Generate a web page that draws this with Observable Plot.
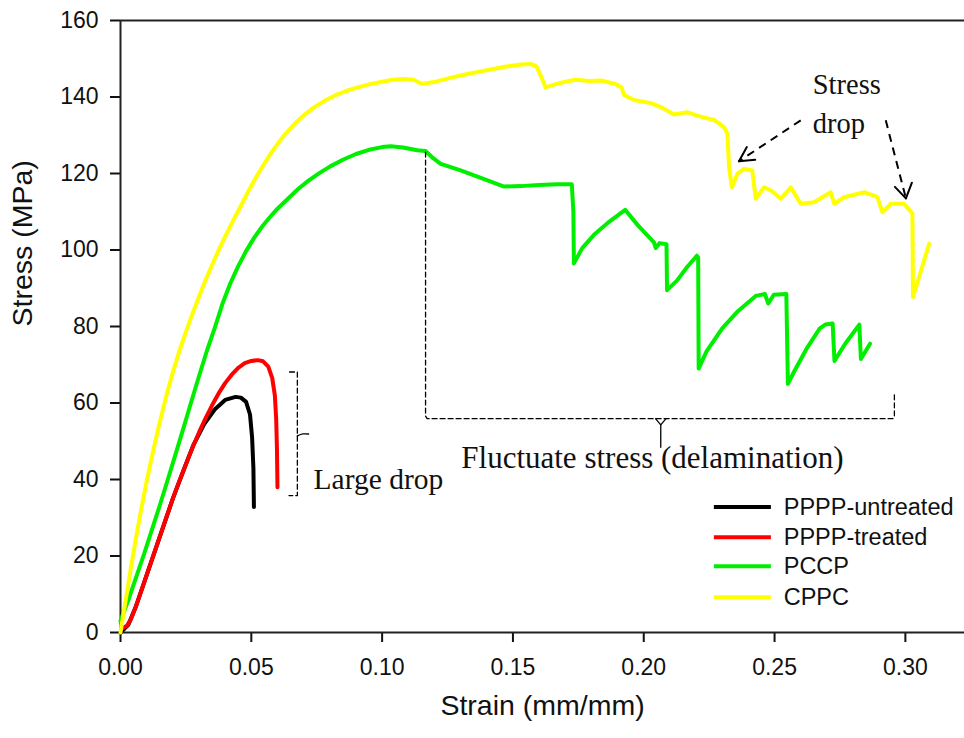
<!DOCTYPE html>
<html>
<head>
<meta charset="utf-8">
<script src="https://cdn.jsdelivr.net/npm/d3@7"></script>
<script src="https://cdn.jsdelivr.net/npm/@observablehq/plot@0.6"></script>
<style>
  html, body { margin: 0; padding: 0; background: #fff; }
  #chart { width: 964px; height: 738px; }
</style>
</head>
<body>
<div id="chart"></div>
<script>
// ---------- data ----------
const seriesNames = ["PPPP-untreated", "PPPP-treated", "PCCP", "CPPC"];
const seriesColors = ["#000000", "#ff0000", "#00ee00", "#ffff00"];

const untreatedStrain = [0, 0.003, 0.006, 0.010, 0.015, 0.020, 0.025, 0.028, 0.032, 0.036, 0.040, 0.044, 0.046, 0.048, 0.0495, 0.0503, 0.0508, 0.051];
const untreatedStress = [0, 2, 7, 15, 25, 35, 44, 49.2, 54.5, 58.3, 60.8, 61.6, 61.4, 60.3, 57, 51, 43, 32.8];

const treatedStrain = [0.0005, 0.0025, 0.004, 0.006, 0.008, 0.010, 0.0125, 0.015, 0.0175, 0.020, 0.0225, 0.025, 0.0275, 0.030, 0.0325, 0.035, 0.0375, 0.040, 0.0425, 0.045, 0.0475, 0.050, 0.0525, 0.0545, 0.0565, 0.058, 0.059, 0.0595, 0.0598, 0.060];
const treatedStress = [1, 1.8, 3.5, 7, 11, 15, 20, 25, 30, 35, 39.6, 44, 48.3, 52.3, 56, 59.4, 62.5, 65.2, 67.4, 69.2, 70.4, 71.0, 71.2, 70.9, 69.5, 66.5, 62, 56, 48, 38];

const pccpStrain = [0, 0.003, 0.006, 0.009, 0.012, 0.015, 0.018, 0.021, 0.024, 0.027, 0.030, 0.033, 0.036, 0.039, 0.042, 0.045, 0.048, 0.051, 0.054, 0.057, 0.060, 0.064, 0.068, 0.072, 0.076, 0.080, 0.085, 0.090, 0.095, 0.100, 0.1033, 0.108, 0.1134, 0.1166, 0.1195, 0.1224, 0.130, 0.139, 0.1466, 0.153, 0.160, 0.167, 0.1725, 0.1731, 0.1733, 0.1765, 0.1813, 0.187, 0.1929, 0.1977, 0.2039, 0.2046, 0.206, 0.2087, 0.2089, 0.2127, 0.2165, 0.2203, 0.2208, 0.221, 0.224, 0.230, 0.236, 0.2428, 0.2463, 0.2476, 0.2497, 0.2545, 0.2551, 0.2577, 0.2625, 0.2673, 0.2694, 0.2722, 0.2729, 0.277, 0.2824, 0.283, 0.2865];
const pccpStress = [3, 8.5, 14.5, 20.5, 26.8, 33.2, 39.8, 46.5, 53.3, 60.2, 67, 73.6, 79.6, 86, 91.3, 95.8, 99.7, 103.1, 106, 108.5, 110.8, 113.4, 116, 118.2, 120.1, 121.8, 123.6, 125.1, 126.2, 126.9, 127.1, 126.8, 126.1, 125.9, 124, 122.5, 120.8, 118.5, 116.6, 116.7, 117, 117.2, 117.2, 110, 96.5, 100.5, 104.2, 107.5, 110.5, 106.5, 102, 100.5, 101.8, 101.5, 89.5, 92, 95.5, 98.5, 98, 69, 73.5, 79.5, 84, 88, 88.5, 86, 88.3, 88.5, 65, 68.5, 74.5, 79.5, 80.5, 80.8, 71, 75.5, 80.5, 71.5, 75.5];

const cppcStrain = [0, 0.002, 0.004, 0.006, 0.008, 0.010, 0.0125, 0.015, 0.0175, 0.020, 0.0225, 0.025, 0.0275, 0.030, 0.0325, 0.035, 0.0375, 0.040, 0.043, 0.046, 0.049, 0.052, 0.055, 0.058, 0.061, 0.064, 0.067, 0.070, 0.074, 0.078, 0.082, 0.086, 0.090, 0.095, 0.100, 0.104, 0.108, 0.112, 0.1153, 0.1198, 0.126, 0.1326, 0.140, 0.147, 0.153, 0.157, 0.159, 0.161, 0.1625, 0.166, 0.170, 0.174, 0.179, 0.1836, 0.1893, 0.1915, 0.1925, 0.1963, 0.2027, 0.207, 0.2116, 0.2167, 0.222, 0.2269, 0.2307, 0.232, 0.2326, 0.2337, 0.2358, 0.2383, 0.2415, 0.2428, 0.246, 0.2486, 0.2524, 0.2562, 0.260, 0.2651, 0.2715, 0.2728, 0.2766, 0.2843, 0.2893, 0.2912, 0.2945, 0.2995, 0.3027, 0.3029, 0.3091];
const cppcStress = [0, 8.5, 17, 25, 32.5, 39.5, 47.5, 55, 61.8, 68, 73.6, 78.6, 83.3, 87.8, 92.1, 96.1, 99.9, 103.5, 107.6, 111.5, 115.5, 119.2, 122.6, 125.8, 128.6, 131.1, 133.3, 135.2, 137.3, 139, 140.4, 141.5, 142.4, 143.3, 144.0, 144.5, 144.7, 144.5, 143.4, 143.9, 145, 146, 147, 147.9, 148.5, 148.6, 148, 145, 142.5, 143.3, 144, 144.5, 144.2, 144.3, 143.4, 142.5, 140.5, 139.2, 138.4, 137.2, 135.4, 136, 134.8, 134, 132.1, 130.4, 121.7, 116.4, 119.9, 121.2, 120.8, 113.4, 116.4, 115.6, 113.4, 116.4, 112.1, 112.5, 115.1, 112.1, 113.8, 115.1, 113.8, 109.9, 112.1, 112.1, 109.5, 87.7, 101.6];

const xTicks = [0, 0.05, 0.10, 0.15, 0.20, 0.25, 0.30];
const yTicks = [0, 20, 40, 60, 80, 100, 120, 140, 160];
const xDomain = [0, 0.3226];
const yDomain = [0, 160];

// annotation anchors (strain, stress)
const arrowStartX = [0.2600, 0.2925];
const arrowStartY = [133.9, 133.9];
const arrowTipX = [0.2364, 0.3002];
const arrowTipY = [123.2, 113.5];
const arrowWingAX = [0.2394, 0.2960];
const arrowWingAY = [126.9, 116.5];
const arrowWingBX = [0.2426, 0.3025];
const arrowWingBY = [123.6, 117.6];

const largeBracketX = [0.0646, 0.0676, 0.0676, 0.0644];
const largeBracketY = [68.1, 68.1, 35.8, 35.8];
const largeTickX = [0.0676, 0.0697, 0.0719];
const largeTickY = [51.4, 51.9, 51.9];

const fluctBracketX = [0.1166, 0.1166, 0.1172, 0.2952, 0.2958, 0.2958];
const fluctBracketY = [125.6, 56.6, 55.9, 55.9, 56.6, 62.7];
const fluctTipX = [0.2045, 0.2065, 0.2085];
const fluctTipY = [55.9, 54.3, 55.9];
const fluctStemX = [0.2065, 0.2065];
const fluctStemY = [54.3, 48.4];

const labelTexts = ["Stress", "drop", "Large drop", "Fluctuate stress (delamination)"];
const labelX = [0.2646, 0.2646, 0.0738, 0.2033];
const labelY = [140.9, 130.5, 37.6, 43.1];
const labelAnchor = ["start", "start", "start", "middle"];
const labelSize = [28.5, 28.5, 29.5, 31];

// legend anchors (strain, stress)
const legendX1 = 0.2268, legendX2 = 0.2486, legendTextX = 0.2535;
const legendY = [32.8, 24.9, 17.3, 9.2];

// ---------- build ----------
const seriesData = [
  [untreatedStrain, untreatedStress],
  [treatedStrain, treatedStress],
  [pccpStrain, pccpStress],
  [cppcStrain, cppcStress]
].map(([xs, ys], k) => xs.map((x, i) => ({series: seriesNames[k], strain: x, stress: ys[i]})));

const pts = (xs, ys) => xs.map((x, i) => ({x, y: ys[i]}));
const arrows = arrowStartX.map((x, i) => ({
  x1: x, y1: arrowStartY[i], x2: arrowTipX[i], y2: arrowTipY[i],
  ax: arrowWingAX[i], ay: arrowWingAY[i], bx: arrowWingBX[i], by: arrowWingBY[i]
}));
const labels = labelTexts.map((t, i) => ({t, x: labelX[i], y: labelY[i], a: labelAnchor[i], s: labelSize[i]}));
const legend = seriesNames.map((s, i) => ({s, c: seriesColors[i], y: legendY[i]}));

const serif = "'Liberation Serif', 'Times New Roman', serif";
const sans = "'Liberation Sans', Arial, sans-serif";

const chart = Plot.plot({
  width: 964,
  height: 738,
  marginLeft: 120,
  marginRight: 0,
  marginTop: 20,
  marginBottom: 106,
  style: {fontFamily: sans, fontSize: "23px", color: "#111", background: "#fff"},
  x: {domain: xDomain},
  y: {domain: yDomain},
  marks: [
    Plot.axisX({ticks: xTicks, tickFormat: d3.format(".2f"), tickSize: 10, tickPadding: 16, fontSize: 23, strokeWidth: 2, label: null}),
    Plot.axisY({ticks: yTicks, tickSize: 10, tickPadding: 12, fontSize: 23, strokeWidth: 2, label: null}),
    Plot.ruleX([0], {stroke: "#222", strokeWidth: 2}),
    Plot.ruleY([0, 160], {stroke: "#222", strokeWidth: 2}),
    Plot.text(["Strain (mm/mm)"], {frameAnchor: "bottom", dy: 82, fontSize: 28.5, fill: "#111"}),
    Plot.text(["Stress (MPa)"], {frameAnchor: "left", dx: -98, rotate: -90, fontSize: 28.5, fill: "#111"}),
    ...seriesData.map((d, k) => Plot.line(d, {x: "strain", y: "stress", stroke: seriesColors[k], strokeWidth: 4, strokeLinejoin: "round", strokeLinecap: "round"})),
    // annotations
    Plot.link(arrows, {x1: "x1", y1: "y1", x2: "x2", y2: "y2", stroke: "#000", strokeWidth: 2, strokeDasharray: "8,6"}),
    Plot.link(arrows, {x1: "ax", y1: "ay", x2: "x2", y2: "y2", stroke: "#000", strokeWidth: 2, strokeLinecap: "round"}),
    Plot.link(arrows, {x1: "bx", y1: "by", x2: "x2", y2: "y2", stroke: "#000", strokeWidth: 2, strokeLinecap: "round"}),
    Plot.line(pts(largeBracketX, largeBracketY), {x: "x", y: "y", stroke: "#000", strokeWidth: 1.3, strokeDasharray: "5,3"}),
    Plot.line(pts(largeTickX, largeTickY), {x: "x", y: "y", stroke: "#000", strokeWidth: 1.3, curve: "natural"}),
    Plot.line(pts(fluctBracketX, fluctBracketY), {x: "x", y: "y", stroke: "#000", strokeWidth: 1.3, strokeDasharray: "5,3"}),
    Plot.line(pts(fluctTipX, fluctTipY), {x: "x", y: "y", stroke: "#000", strokeWidth: 1.3}),
    Plot.line(pts(fluctStemX, fluctStemY), {x: "x", y: "y", stroke: "#000", strokeWidth: 1.3}),
    Plot.text(labels, {x: "x", y: "y", text: "t", textAnchor: "start", lineAnchor: "bottom", fontSize: "s", fontFamily: serif, fill: "#111", filter: d => d.a === "start"}),
    Plot.text(labels, {x: "x", y: "y", text: "t", textAnchor: "middle", lineAnchor: "bottom", fontSize: "s", fontFamily: serif, fill: "#111", filter: d => d.a === "middle"}),
    // legend
    Plot.link(legend, {x1: () => legendX1, x2: () => legendX2, y1: "y", y2: "y", stroke: "c", strokeWidth: 4}),
    Plot.text(legend, {x: () => legendTextX, y: "y", text: "s", textAnchor: "start", fontSize: 23.5, fill: "#111"})
  ]
});
document.getElementById("chart").appendChild(chart);
</script>
</body>
</html>
